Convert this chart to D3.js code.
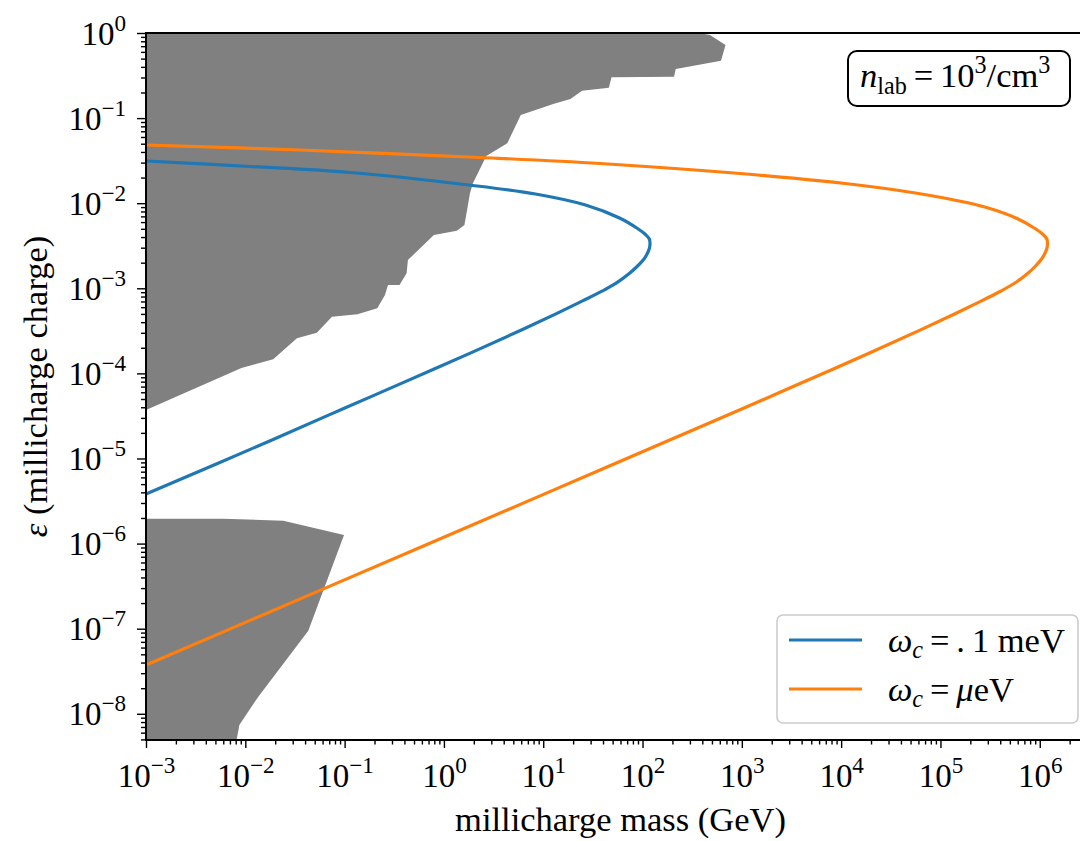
<!DOCTYPE html>
<html>
<head>
<meta charset="utf-8">
<script src="https://cdn.jsdelivr.net/npm/d3@7"></script>
<style>
  body { margin: 0; background: #fff; }
  svg { display: block; }
  svg text { font-family: "Liberation Serif", "Times New Roman", serif; }
</style>
</head>
<body>
<div id="chart"></div>
<script>
// ---- data ------------------------------------------------------------------
const xTickExps = [-3, -2, -1, 0, 1, 2, 3, 4, 5, 6];
const yTickExps = [-8, -7, -6, -5, -4, -3, -2, -1, 0];

// excluded region, upper (mass GeV, epsilon)
const boundUpperMass = [1e-3, 371, 478, 685, 617, 216, 207.5, 48.7, 45.8, 24.6, 18.8, 12.6, 5.94, 4.35,
  2.67, 1.96, 1.83, 1.61, 1.35, 0.792, 0.434, 0.421, 0.357, 0.2735, 0.255, 0.2133, 0.1346, 0.0746,
  0.0525, 0.0331, 0.0191, 0.00914, 1e-3];
const boundUpperEps = [1, 1, 0.947, 0.723, 0.4726, 0.3776, 0.3065, 0.3016, 0.2276, 0.2099, 0.1676, 0.1465,
  0.1088, 0.0506, 0.0359, 0.01714, 0.01306, 0.00554, 0.00475, 0.00423, 0.00215, 0.0015, 0.001094,
  0.001094, 8.34e-4, 5.82e-4, 4.95e-4, 4.63e-4, 3.0e-4, 2.58e-4, 1.47e-4, 1.16e-4, 3.72e-5];

// excluded region, lower
const boundLowerMass = [1e-3, 0.0060, 0.02415, 0.0986, 0.0431, 0.01352, 0.00871, 0.00818, 0.0081, 1e-3];
const boundLowerEps = [1.96e-6, 1.96e-6, 1.86e-6, 1.26e-6, 9.48e-8, 1.59e-8, 7.4e-9, 4.92e-9, 3e-9, 3e-9];

// omega_c = .1 meV  (upper branch -> tip -> lower branch)
const blueMass = [1e-3, 0.01115, 0.1133, 1.789, 8.366, 26.67, 58.67, 89.06, 107.2, 117.1, 119.0, 117.1,
  111.0, 103.5, 89.06, 73.98, 54.72, 39.55, 24.87, 13.93, 6.187, 1.941, 0.3829, 0.09526, 0.01857, 1e-3];
const blueEps = [0.03132, 0.02700, 0.02295, 0.01637, 0.01283, 0.009524, 0.006700, 0.005043, 0.004287,
  0.003796, 0.003360, 0.002936, 0.002529, 0.002209, 0.001828, 0.001501, 0.001157, 9.32e-4, 7.11e-4,
  5.11e-4, 3.279e-4, 1.779e-4, 7.73e-5, 3.816e-5, 1.650e-5, 3.826e-6];

// omega_c = micro eV
const orangeMass = [1e-3, 0.03555, 2.310, 37.33, 959.2, 1.781e4, 8.42e4, 2.686e5, 5.907e5, 8.968e5,
  1.080e6, 1.179e6, 1.198e6, 1.179e6, 1.118e6, 1.043e6, 8.968e5, 7.449e5, 5.510e5, 3.983e5, 2.504e5,
  1.403e5, 6.232e4, 1.955e4, 3856, 959.2, 9.286, 0.05652, 1e-3];
const orangeEps = [0.04829, 0.04219, 0.03444, 0.02928, 0.02234, 0.01593, 0.01215, 0.009146, 0.006610,
  0.005043, 0.004287, 0.003796, 0.003360, 0.002936, 0.002529, 0.002209, 0.001804, 0.001472, 0.001138,
  9.17e-4, 6.98e-4, 5.03e-4, 3.227e-4, 1.747e-4, 7.59e-5, 3.745e-5, 3.635e-6, 2.818e-7, 3.745e-8];

// ---- layout ----------------------------------------------------------------
const W = 1080, H = 841;
const M = { left: 146, top: 33, right: 1095, bottom: 740 };
const FS_TICK = 33, FS_LABEL = 34.5;
const BLUE = "#1f77b4", ORANGE = "#ff7f0e", GRAY = "#808080";
const SERIF = '"Liberation Serif", "Times New Roman", serif';

const svg = d3.select("#chart").append("svg").attr("width", W).attr("height", H);

const x = d3.scaleLog().domain([1e-3, 3.6e6]).range([M.left, M.right]);
const y = d3.scaleLog().domain([4.92e-9, 1]).range([M.bottom, M.top]);

svg.append("defs").append("clipPath").attr("id", "plot-clip")
  .append("rect").attr("x", M.left).attr("y", M.top)
  .attr("width", M.right - M.left).attr("height", M.bottom - M.top);

const plot = svg.append("g").attr("clip-path", "url(#plot-clip)");

const zip = (a, b) => a.map((v, i) => [v, b[i]]);
const area = d3.line().x((d) => x(d[0])).y((d) => y(d[1]));

plot.append("path").attr("d", area(zip(boundUpperMass, boundUpperEps)) + "Z").attr("fill", GRAY);
plot.append("path").attr("d", area(zip(boundLowerMass, boundLowerEps)) + "Z").attr("fill", GRAY);

const curve = d3.line().x((d) => x(d[0])).y((d) => y(d[1])).curve(d3.curveCatmullRom.alpha(0.5));
plot.append("path").attr("d", curve(zip(blueMass, blueEps)))
  .attr("fill", "none").attr("stroke", BLUE).attr("stroke-width", 3.2);
plot.append("path").attr("d", curve(zip(orangeMass, orangeEps)))
  .attr("fill", "none").attr("stroke", ORANGE).attr("stroke-width", 3.2);

// ---- axes ------------------------------------------------------------------
const minors = (lo, hi, dom) => {
  const out = [];
  for (let e = lo; e <= hi; e++) for (let k = 2; k <= 9; k++) {
    const v = k * Math.pow(10, e);
    if (v >= dom[0] && v <= dom[1]) out.push(v);
  }
  return out;
};
const xMajor = xTickExps.map((e) => Math.pow(10, e));
const yMajor = yTickExps.map((e) => Math.pow(10, e));

function styleAxis(g) {
  g.select(".domain").remove();
  g.attr("font-family", SERIF);
  g.selectAll(".tick line").attr("stroke", "#000").attr("stroke-width", 1.4);
  g.selectAll(".tick text").remove();
}

svg.append("g").attr("transform", `translate(0,${M.bottom})`)
  .call(d3.axisBottom(x).tickValues(minors(-3, 6, x.domain())).tickSize(4.5).tickSizeOuter(0))
  .call(styleAxis);
const gx = svg.append("g").attr("transform", `translate(0,${M.bottom})`)
  .call(d3.axisBottom(x).tickValues(xMajor).tickSize(8).tickSizeOuter(0))
  .call(styleAxis);
svg.append("g").attr("transform", `translate(${M.left},0)`)
  .call(d3.axisLeft(y).tickValues(minors(-9, -1, y.domain())).tickSize(5).tickSizeOuter(0))
  .call(styleAxis);
const gy = svg.append("g").attr("transform", `translate(${M.left},0)`)
  .call(d3.axisLeft(y).tickValues(yMajor).tickSize(9).tickSizeOuter(0))
  .call(styleAxis);

const expText = (e) => (e < 0 ? "\u2212" + Math.abs(e) : String(e));
function powerLabel(sel, e, fs) {
  sel.append("tspan").text("10");
  sel.append("tspan").attr("font-size", fs * 0.7).attr("dy", -fs * 0.42).text(expText(e));
}

gx.selectAll(".tick").each(function (d) {
  const t = d3.select(this).append("text")
    .attr("x", 0).attr("y", 47).attr("text-anchor", "middle")
    .attr("font-family", SERIF).attr("font-size", FS_TICK).attr("fill", "#000");
  powerLabel(t, Math.round(Math.log10(d)), FS_TICK);
});
gy.selectAll(".tick").each(function (d) {
  const t = d3.select(this).append("text")
    .attr("x", -20).attr("y", 11).attr("text-anchor", "end")
    .attr("font-family", SERIF).attr("font-size", FS_TICK).attr("fill", "#000");
  powerLabel(t, Math.round(Math.log10(d)), FS_TICK);
});

// spines
const spine = (x1, y1, x2, y2) => svg.append("line")
  .attr("x1", x1).attr("y1", y1).attr("x2", x2).attr("y2", y2)
  .attr("stroke", "#000").attr("stroke-width", 2).attr("stroke-linecap", "square");
spine(M.left, M.top, M.left, M.bottom);
spine(M.left, M.bottom, M.right, M.bottom);
spine(M.left, M.top, M.right, M.top);
spine(M.right, M.top, M.right, M.bottom);

// axis titles
svg.append("text").attr("x", (M.left + M.right) / 2).attr("y", 831)
  .attr("text-anchor", "middle").attr("font-size", FS_LABEL)
  .text("millicharge mass (GeV)");

const yl = svg.append("text").attr("transform", `translate(47,${(M.top + M.bottom) / 2}) rotate(-90)`)
  .attr("text-anchor", "middle").attr("font-size", FS_LABEL);
yl.append("tspan").attr("font-style", "italic").text("\u03b5");
yl.append("tspan").text(" (millicharge charge)");

// ---- annotation box ----------------------------------------------------------
svg.append("rect").attr("x", 848).attr("y", 51).attr("width", 222).attr("height", 55)
  .attr("rx", 9).attr("fill", "#fff").attr("stroke", "#000").attr("stroke-width", 2);
const ann = svg.append("text").attr("x", 860).attr("y", 87).attr("font-size", FS_LABEL);
ann.append("tspan").attr("font-style", "italic").text("n");
ann.append("tspan").attr("font-size", FS_LABEL * 0.7).attr("dy", FS_LABEL * 0.2).text("lab");
ann.append("tspan").attr("dy", -FS_LABEL * 0.2).text("\u2009=\u200910");
ann.append("tspan").attr("font-size", FS_LABEL * 0.7).attr("dy", -FS_LABEL * 0.42).text("3");
ann.append("tspan").attr("dy", FS_LABEL * 0.42).text("/cm");
ann.append("tspan").attr("font-size", FS_LABEL * 0.7).attr("dy", -FS_LABEL * 0.42).text("3");

// ---- legend ------------------------------------------------------------------
const legend = svg.append("g");
legend.append("rect").attr("x", 777).attr("y", 615).attr("width", 301).attr("height", 108)
  .attr("rx", 6).attr("fill", "#fff").attr("fill-opacity", 0.8)
  .attr("stroke", "#cccccc").attr("stroke-width", 1.6);
const legendItems = [
  { color: BLUE, label: [["\u03c9", "italic"], ["c", "sub"], ["\u2009=\u2009.\u20091 meV", ""]] },
  { color: ORANGE, label: [["\u03c9", "italic"], ["c", "sub"], ["\u2009=\u2009", ""], ["\u03bc", "italic"], ["eV", ""]] },
];
legendItems.forEach((item, i) => {
  const ly = 640 + i * 49;
  legend.append("line").attr("x1", 789).attr("x2", 862).attr("y1", ly).attr("y2", ly)
    .attr("stroke", item.color).attr("stroke-width", 3.2);
  const t = legend.append("text").attr("x", 888).attr("y", ly + 11.5).attr("font-size", FS_LABEL);
  let shifted = false;
  item.label.forEach(([s, kind]) => {
    const ts = t.append("tspan").text(s);
    if (kind === "sub") {
      ts.attr("font-style", "italic").attr("font-size", FS_LABEL * 0.7).attr("dy", FS_LABEL * 0.2);
      shifted = true;
    } else {
      if (kind === "italic") ts.attr("font-style", "italic");
      if (shifted) { ts.attr("dy", -FS_LABEL * 0.2); shifted = false; }
    }
  });
});
</script>
</body>
</html>
